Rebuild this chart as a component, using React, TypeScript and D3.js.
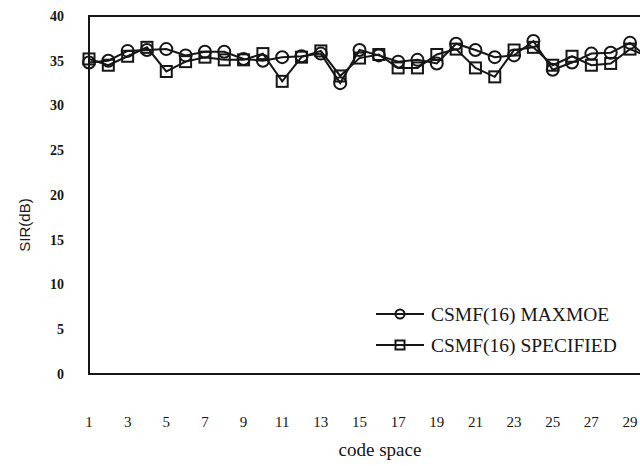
import React from "react";
import * as d3 from "d3";

// code space index
const codeSpace: number[] = d3.range(1, 31);
// SIR (dB) per code space
const maxmoe: number[] = [34.8, 35.0, 36.1, 36.2, 36.3, 35.6, 36.0, 36.0, 35.2, 35.0, 35.4, 35.5, 35.8, 32.5, 36.2, 35.6, 34.9, 35.1, 34.7, 36.9, 36.2, 35.4, 35.6, 37.2, 34.0, 34.8, 35.8, 35.9, 37.0, 35.2];
const specified: number[] = [35.2, 34.5, 35.5, 36.5, 33.8, 34.9, 35.4, 35.1, 35.1, 35.8, 32.7, 35.4, 36.1, 33.3, 35.3, 35.7, 34.2, 34.2, 35.7, 36.3, 34.2, 33.2, 36.2, 36.5, 34.5, 35.5, 34.5, 34.7, 36.3, 35.4];
const xTicks: number[] = [1, 3, 5, 7, 9, 11, 13, 15, 17, 19, 21, 23, 25, 27, 29];
const yTicks: number[] = [0, 5, 10, 15, 20, 25, 30, 35, 40];
const seriesNames: string[] = ["CSMF(16) MAXMOE", "CSMF(16) SPECIFIED"];

const W = 640;
const H = 466;
const left = 89;
const top = 16;
const bottom = 374;
const right = 656;

const serif = "'Liberation Serif', 'Times New Roman', serif";
const ink = "#161616";

export default function App() {
  const x = d3.scaleLinear().domain([1, 29]).range([89, 630]);
  const y = d3.scaleLinear().domain([0, 40]).range([bottom, top]);

  const line = d3
    .line<number>()
    .x((_, i) => x(codeSpace[i]))
    .y((d) => y(d));

  const circle = (cx: number, cy: number, r: number, key: string) => (
    <circle key={key} cx={cx} cy={cy} r={r} fill="none" stroke={ink} strokeWidth={2} />
  );
  const square = (cx: number, cy: number, s: number, key: string) => (
    <rect key={key} x={cx - s / 2} y={cy - s / 2} width={s} height={s} fill="none" stroke={ink} strokeWidth={2} />
  );

  const legendY = [314, 345];

  return (
    <svg
      width={W}
      height={H}
      viewBox={`0 0 ${W} ${H}`}
      style={{ position: "absolute", left: 0, top: 0, background: "#fff" }}
    >
      <rect x={0} y={0} width={W} height={H} fill="#fff" />
      {/* plot frame */}
      <rect x={left} y={top} width={right - left} height={bottom - top} fill="none" stroke={ink} strokeWidth={2} />

      {/* y tick labels */}
      {yTicks.map((t) => (
        <text key={`y${t}`} x={64} y={y(t)} dy="0.35em" textAnchor="end" fontFamily={serif} fontSize={14} fontWeight="bold" fill={ink}>
          {t}
        </text>
      ))}
      {/* x tick labels */}
      {xTicks.map((t) => (
        <text key={`x${t}`} x={x(t)} y={427} textAnchor="middle" fontFamily={serif} fontSize={15} fill={ink}>
          {t}
        </text>
      ))}

      {/* axis titles */}
      <text x={380} y={456} textAnchor="middle" fontFamily={serif} fontSize={19} fill={ink}>
        code space
      </text>
      <text
        transform={`translate(30,225) rotate(-90)`}
        textAnchor="middle"
        fontFamily="'Liberation Sans', Arial, sans-serif"
        fontSize={15}
        fill={ink}
      >
        SIR(dB)
      </text>

      {/* series */}
      <path d={line(maxmoe) || ""} fill="none" stroke={ink} strokeWidth={2} />
      <path d={line(specified) || ""} fill="none" stroke={ink} strokeWidth={2} />
      {specified.map((v, i) => square(x(codeSpace[i]), y(v), 11, `s${i}`))}
      {maxmoe.map((v, i) => circle(x(codeSpace[i]), y(v), 6, `c${i}`))}

      {/* legend */}
      {seriesNames.map((name, i) => (
        <g key={name}>
          <line x1={376} x2={424} y1={legendY[i]} y2={legendY[i]} stroke={ink} strokeWidth={2} />
          {i === 0 ? circle(400, legendY[i], 4.5, "lc") : square(400, legendY[i], 9, "ls")}
          <text x={431} y={legendY[i]} dy="0.35em" fontFamily={serif} fontSize={19.5} fill={ink}>
            {name}
          </text>
        </g>
      ))}
    </svg>
  );
}
